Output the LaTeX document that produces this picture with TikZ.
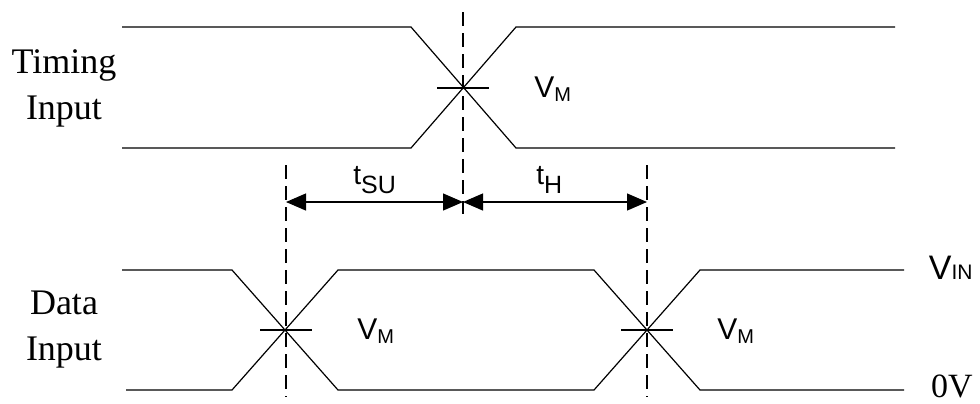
\documentclass[tikz,border=0pt]{standalone}
\usepackage{fontspec}
\setmainfont{Liberation Serif}
\setsansfont{Liberation Sans}
\usetikzlibrary{arrows.meta}
% #1 main size, #2 sub size, #3 drop, #4 letter, #5 subscript
\newcommand{\sig}[5]{{\sffamily\fontsize{#1}{#1}\selectfont #4\raisebox{-#3}{\fontsize{#2}{#2}\selectfont #5}}}
\newcommand{\lvl}[2]{\sig{15}{10}{2pt}{#1}{#2}}
\newcommand{\tim}[1]{\sig{14}{12.5}{4.5pt}{t}{#1}}

\begin{document}
\begin{tikzpicture}[x=0.5pt,y=-0.5pt,
		wave/.style={line width=0.6pt},
		guide/.style={line width=0.6pt, dash pattern=on 7pt off 3.5pt},
		tick/.style={line width=0.6pt},
		span/.style={{Triangle[length=10pt,width=8.5pt]}-{Triangle[length=10pt,width=8.5pt]}, line width=0.6pt},
		side/.style={font=\fontsize{18}{23}\selectfont, align=center}]
		\useasboundingbox (0,0) rectangle (980,403);
		% timing input
		\draw[wave] (122,27) -- (411,27) -- (516,148) -- (895,148);
		\draw[wave] (122,148) -- (411,148) -- (516,27) -- (895,27);
		% data input
		\draw[wave] (122,270) -- (232,270) -- (338,390) -- (594,390) -- (700,270) -- (904,270);
		\draw[wave] (126,390) -- (232,390) -- (338,270) -- (594,270) -- (700,390) -- (904,390);
		% crossings
		\coordinate (tc) at (463,88);
		\coordinate (dl) at (286,330);
		\coordinate (dr) at (647,330);
		\foreach \c in {tc,dl,dr} {
			\draw[tick] ([xshift=-13pt]\c) -- ([xshift=13pt]\c);
		}
		\draw[guide] (463,12) -- (463,214);
		\draw[guide] (286,165) -- (286,397);
		\draw[guide] (647,165) -- (647,397);
		% setup and hold
		\coordinate (sl) at (286,202);
		\coordinate (sm) at (463,202);
		\coordinate (sr) at (647,202);
		\draw[span] (sl) -- (sm);
		\draw[span] (sm) -- (sr);
		\node[anchor=base west, inner sep=0pt] (tsu) at (353,184) {\tim{SU}};
		\node[anchor=base west, inner sep=0pt] (th) at (536,184) {\tim{H}};
		% levels
		\node[anchor=base west, inner sep=0pt] (vmt) at (534,97) {\lvl{V}{M}};
		\node[anchor=base west, inner sep=0pt] (vml) at (357,339) {\lvl{V}{M}};
		\node[anchor=base west, inner sep=0pt] (vmr) at (717,339) {\lvl{V}{M}};
		\node[anchor=base east, inner sep=0pt] (vin) at (973,279) {\sig{17}{10.5}{0pt}{V}{IN}};
		\node[anchor=base east, inner sep=0pt, font=\fontsize{17}{20}\selectfont] (zero) at (973,397) {0V};
		% names
		\node[side] (timing) at (64,88) {Timing\\Input};
		\node[side] (data) at (64,330) {Data\\Input};
	\end{tikzpicture}
\end{document}
